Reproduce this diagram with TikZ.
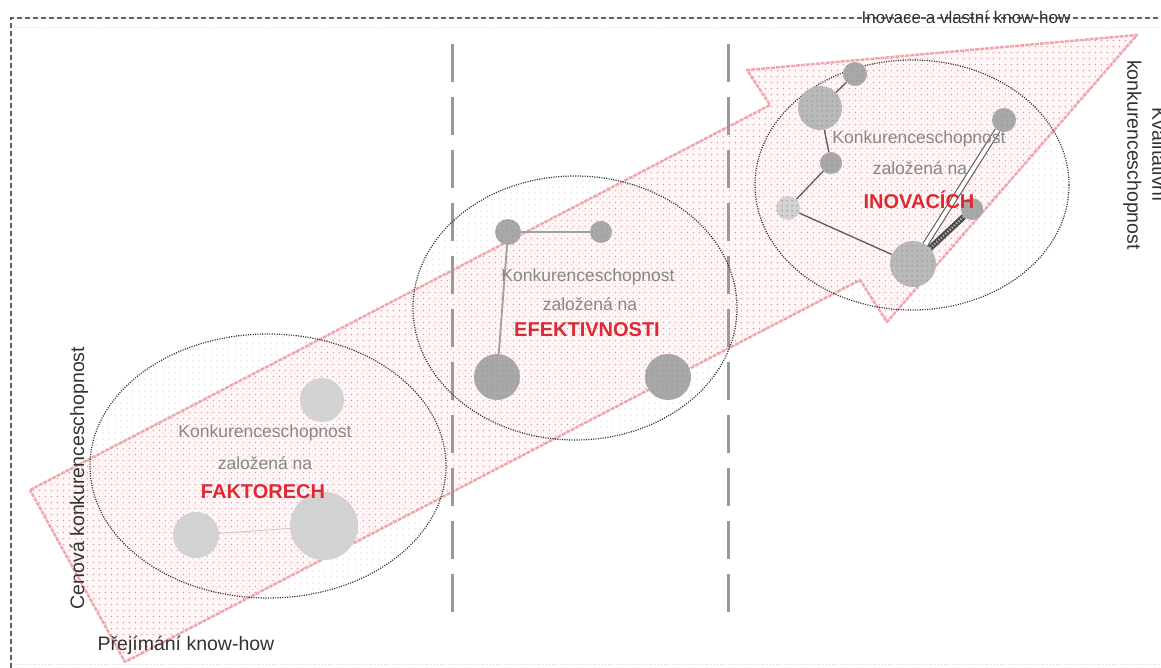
\documentclass[tikz,border=0pt]{standalone}
\usepackage{fontspec}
\setmainfont{Liberation Sans}
\usetikzlibrary{patterns,patterns.meta,shapes.geometric}
\tikzdeclarepattern{
  name=pinkdots, type=uncolored,
  bounding box={(0pt,0pt) and (6pt,6pt)},
  tile size={(6pt,6pt)},
  code={\fill (4pt,4pt) circle (0.95pt);}
}
\tikzdeclarepattern{
  name=greydots, type=uncolored,
  bounding box={(0pt,0pt) and (6pt,6pt)},
  tile size={(6pt,6pt)},
  code={\fill (1.2pt,1.2pt) circle (0.75pt);}
}
\tikzdeclarepattern{
  name=balldots, type=uncolored,
  bounding box={(0pt,0pt) and (5pt,5pt)},
  tile size={(5pt,5pt)},
  code={\fill (2.5pt,2.5pt) circle (0.9pt);}
}
\definecolor{txtred}{RGB}{222,40,52}
\definecolor{txtgrey}{RGB}{135,135,135}
\definecolor{txtdark}{RGB}{50,50,50}
\definecolor{arrowpink}{RGB}{240,165,170}
\begin{document}
\begin{tikzpicture}[x=1pt,y=-1pt,
  frame/.style={draw=gray!75!black, line width=1.5pt, dash pattern=on 5pt off 3pt},
  sepline/.style={draw=gray!80, line width=3pt, dash pattern=on 38pt off 15pt},
  zone/.style={ellipse, draw=black!80, line width=1.2pt, dash pattern=on 1.1pt off 1.3pt,
    pattern=greydots, pattern color=gray!45, inner sep=0pt},
  ball/.style={circle, inner sep=0pt, minimum size=#1},
  lightball/.style={ball=#1, fill=gray!35},
  midball/.style={ball=#1, fill=gray!55},
  darkball/.style={ball=#1, fill=gray!68},
  texture/.style={circle, inner sep=0pt, minimum size=#1, pattern=balldots, pattern color=black!40},
  link/.style={draw=black!65, line width=1.3pt},
  gtxt/.style={text=txtgrey, font=\fontsize{17.5}{20}\selectfont, inner sep=0pt},
  rtxt/.style={text=txtred, font=\fontsize{20}{24}\selectfont\bfseries, inner sep=0pt},
  ktxt/.style={text=txtdark, font=\fontsize{19.5}{25}\selectfont, inner sep=0pt},
]
\useasboundingbox (0,0) rectangle (1161,668);

% outer frame
\draw[frame] (11,668) -- (11,18) -- (1161,18);
\draw[gray!25, line width=0.8pt, dotted] (14,27) -- (1161,27);
\draw[gray!35, line width=0.8pt, dotted] (14,664) -- (1161,664);

% big arrow
\fill[red!3] (30,490) -- (770,105) -- (747,70) -- (1137,35) -- (887,322) -- (860,280) -- (125,662) -- cycle;
\path[pattern=pinkdots, pattern color=red!45, draw=arrowpink, line width=2.4pt, line join=round,
      dash pattern=on 4pt off 1pt]
  (30,490) -- (770,105) -- (747,70) -- (1137,35) -- (887,322) -- (860,280) -- (125,662) -- cycle;

% separators
\coordinate (s1t) at (452,44); \coordinate (s1b) at (452,613);
\coordinate (s2t) at (728,44); \coordinate (s2b) at (728,613);
\draw[sepline] (s1t) -- (s1b);
\draw[sepline] (s2t) -- (s2b);

% zones
\node[zone, minimum width=356pt, minimum height=264pt] (z1) at (268,466) {};
\node[zone, minimum width=324pt, minimum height=264pt] (z2) at (575,308) {};
\node[zone, minimum width=314pt, minimum height=250pt] (z3) at (912,185) {};

% zone 1 balls
\node[lightball=44pt] (f1) at (322,400) {};
\node[lightball=46pt] (f2) at (196,535) {};
\node[lightball=68pt] (f3) at (324,526) {};
\draw[gray!45, line width=0.8pt] (f2) -- (f3);

% zone 2 balls
\node[darkball=26pt] (e1) at (508,232) {};
\node[darkball=22pt] (e2) at (601,232) {};
\node[darkball=46pt] (e3) at (497,377) {};
\node[darkball=46pt] (e4) at (668,377) {};
\node[texture=26pt] (e1t) at (e1) {};
\node[texture=22pt] (e2t) at (e2) {};
\node[texture=46pt] (e3t) at (e3) {};
\node[texture=46pt] (e4t) at (e4) {};
\draw[draw=gray!75, line width=1.8pt] (e1) -- (e2);
\draw[draw=gray!75, line width=1.8pt] (e1) -- (e3);

% zone 3 balls
\node[darkball=24pt] (i1) at (855,74) {};
\node[midball=44pt] (i2) at (820,108) {};
\node[darkball=22pt] (i3) at (831,163) {};
\node[lightball=24pt] (i4) at (788,208) {};
\node[darkball=24pt] (i5) at (1004,120) {};
\node[darkball=22pt] (i6) at (972,209) {};
\node[midball=46pt] (i7) at (913,264) {};
\foreach \b/\s in {i1/24pt,i2/44pt,i3/22pt,i4/24pt,i5/24pt,i6/22pt,i7/46pt}
  \node[texture=\s] (\b t) at (\b) {};
\draw[link] (i1) -- (i2);
\draw[link] (i2) -- (i3);
\draw[link] (i3) -- (i4);
\draw[link] (i4) -- (i7);
\draw[link, double=white, double distance=4pt, line width=1.1pt] (i7) -- (i5);
\draw[line width=6pt, draw=black!70] (i7) -- (i6);
\draw[line width=2pt, draw=gray!40, dash pattern=on 1pt off 2pt] (i7) -- (i6);

% zone texts
\node[gtxt] (t1a) at (265,433) {Konkurenceschopnost};
\node[gtxt] (t1b) at (265,463) {založená na};
\node[rtxt] (t1c) at (263,492) {FAKTORECH};
\node[gtxt] (t2a) at (588,277) {Konkurenceschopnost};
\node[gtxt] (t2b) at (590,304) {založená na};
\node[rtxt] (t2c) at (587,330) {EFEKTIVNOSTI};
\node[gtxt] (t3a) at (919,139) {Konkurenceschopnost};
\node[gtxt] (t3b) at (920,168) {založená na};
\node[rtxt] (t3c) at (919,200) {INOVACÍCH};

% axis texts
\node[ktxt, rotate=90] (cen) at (79,478) {Cenová konkurenceschopnost};
\node[ktxt] (pre) at (186,645) {Přejímání know-how};
\node[ktxt, font=\fontsize{17}{20}\selectfont] (ino) at (966,17) {Inovace a vlastní know-how};
\node[ktxt, rotate=-90, align=center] (kval) at (1145,155) {Kvalitativní\\konkurenceschopnost};
\end{tikzpicture}
\end{document}
